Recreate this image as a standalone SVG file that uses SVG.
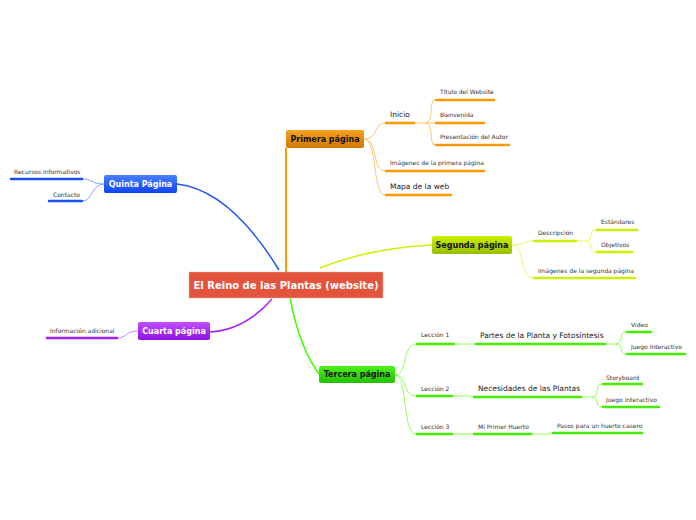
<svg xmlns="http://www.w3.org/2000/svg" width="696" height="520" viewBox="0 0 696 520">
<defs>
<linearGradient id="gO" x1="0" y1="0" x2="0" y2="1"><stop offset="0" stop-color="#f6a21a"/><stop offset="1" stop-color="#d07800"/></linearGradient>
<linearGradient id="gY" x1="0" y1="0" x2="0" y2="1"><stop offset="0" stop-color="#ccf000"/><stop offset="1" stop-color="#94c000"/></linearGradient>
<linearGradient id="gG" x1="0" y1="0" x2="0" y2="1"><stop offset="0" stop-color="#4cf21a"/><stop offset="1" stop-color="#24c000"/></linearGradient>
<linearGradient id="gP" x1="0" y1="0" x2="0" y2="1"><stop offset="0" stop-color="#c050ff"/><stop offset="1" stop-color="#9010e0"/></linearGradient>
<linearGradient id="gB" x1="0" y1="0" x2="0" y2="1"><stop offset="0" stop-color="#4a80ff"/><stop offset="1" stop-color="#1044f0"/></linearGradient>
</defs>
<style>
text{font-family:Verdana,"DejaVu Sans",sans-serif;fill:#333}
.t{font-size:6px}
.m{font-size:7.5px;fill:#222}
.n{font-size:8px;font-weight:bold}
.w{fill:#fff}
.k{fill:#111}
.u{stroke-width:2.5;fill:none;stroke-linecap:round}
.c{fill:none}
</style>
<g id="connectors">
<path class="c" d="M286 272 V148" stroke="#f90" stroke-width="2"/>
<path class="c" d="M320 268 Q370 248 432 245" stroke="#ccf000" stroke-width="1.5"/>
<path class="c" d="M290 298 Q300 350 320 375" stroke="#44ff00" stroke-width="1.5"/>
<path class="c" d="M272 299 Q245 330 210 332" stroke="#aa22ff" stroke-width="1.5"/>
<path class="c" d="M279 270 Q230 190 177 184" stroke="#2255ff" stroke-width="1.5"/>
<g stroke="#ffc870" stroke-width="1" fill="none">
<path d="M364 139 C378 139 374 123 385 123"/>
<path d="M364 139 C378 139 372 171 385 171"/>
<path d="M364 139 C378 139 372 195 385 195"/>
<path d="M415 123 H425 C435 123 428 100 435 100"/>
<path d="M425 123 H435"/>
<path d="M425 123 C435 123 428 145 435 145"/>
</g>
<g stroke="#e4ff60" stroke-width="1" fill="none">
<path d="M512 245 C525 245 522 241 533 241"/>
<path d="M512 245 C525 245 520 278 533 278"/>
<path d="M577 241 H586 C594 241 588 230 596 230"/>
<path d="M586 241 C594 241 588 252 596 252"/>
</g>
<g stroke="#90ff60" stroke-width="1" fill="none">
<path d="M395 375 C408 375 402 344 416 344"/>
<path d="M395 375 C408 375 402 396 416 396"/>
<path d="M395 375 C408 375 402 434 416 434"/>
<path d="M455 344 H475"/>
<path d="M453 396 H473"/>
<path d="M453 434 H473"/>
<path d="M532 434 H552"/>
<path d="M606 344 H616 C624 344 618 332 626 332"/>
<path d="M616 344 C624 344 618 354 626 354"/>
<path d="M582 397 H592 C600 397 594 384 602 384"/>
<path d="M592 397 C600 397 594 407 602 407"/>
</g>
<path d="M138 331 C126 331 126 338 118 338" stroke="#d080ff" stroke-width="1" fill="none"/>
<g stroke="#80a8ff" stroke-width="1" fill="none">
<path d="M104 184 C92 184 92 179 83 179"/>
<path d="M104 184 C92 184 92 201 83 201"/>
</g>
</g>
<g id="central">
<rect x="189" y="272" width="194" height="26" fill="#e4533b" stroke="#f6b0a0" stroke-width="0.5"/>
<text x="286" y="289" text-anchor="middle" class="w" style="font-size:10px;font-weight:bold">El Reino de las Plantas (website)</text>
</g>
<g id="primera">
<rect x="286" y="130" width="78" height="18" rx="2" fill="url(#gO)"/>
<text x="325" y="142" text-anchor="middle" class="n k">Primera página</text>
</g>
<g id="primera-children" stroke="#f90">
<line class="u" x1="386" y1="123" x2="414" y2="123"/><text x="390" y="117" class="m" stroke="none">Inicio</text>
<line class="u" x1="436" y1="100" x2="494" y2="100"/><text x="440" y="94" class="t" stroke="none">Título del Website</text>
<line class="u" x1="436" y1="123" x2="484" y2="123"/><text x="440" y="117" class="t" stroke="none">Bienvenida</text>
<line class="u" x1="436" y1="145" x2="509" y2="145"/><text x="440" y="139" class="t" stroke="none">Presentación del Autor</text>
<line class="u" x1="386" y1="171" x2="484" y2="171"/><text x="390" y="165" class="t" stroke="none">Imágenes de la primera página</text>
<line class="u" x1="386" y1="195" x2="451" y2="195"/><text x="390" y="189" class="m" stroke="none">Mapa de la web</text>
</g>
<g id="segunda">
<rect x="432" y="236" width="80" height="18" rx="2" fill="url(#gY)"/>
<text x="472" y="248" text-anchor="middle" class="n k">Segunda página</text>
</g>
<g id="segunda-children" stroke="#ccf000">
<line class="u" x1="534" y1="241" x2="576" y2="241"/><text x="538" y="235" class="t" stroke="none">Descripción</text>
<line class="u" x1="597" y1="230" x2="637" y2="230"/><text x="601" y="224" class="t" stroke="none">Estándares</text>
<line class="u" x1="597" y1="252" x2="632" y2="252"/><text x="601" y="247" class="t" stroke="none">Objetivos</text>
<line class="u" x1="534" y1="278" x2="635" y2="278"/><text x="538" y="273" class="t" stroke="none">Imágenes de la segunda página</text>
</g>
<g id="tercera">
<rect x="319" y="366" width="76" height="17" rx="2" fill="url(#gG)"/>
<text x="357" y="377" text-anchor="middle" class="n k">Tercera página</text>
</g>
<g id="tercera-children" stroke="#44ee00">
<line class="u" x1="417" y1="344" x2="454" y2="344"/><text x="421" y="337" class="t" stroke="none">Lección 1</text>
<line class="u" x1="417" y1="396" x2="452" y2="396"/><text x="421" y="391" class="t" stroke="none">Lección 2</text>
<line class="u" x1="417" y1="434" x2="452" y2="434"/><text x="421" y="429" class="t" stroke="none">Lección 3</text>
<line class="u" x1="476" y1="344" x2="605" y2="344"/><text x="480" y="338" class="m" stroke="none">Partes de la Planta y Fotosíntesis</text>
<line class="u" x1="627" y1="332" x2="651" y2="332"/><text x="631" y="327" class="t" stroke="none">Video</text>
<line class="u" x1="627" y1="354" x2="685" y2="354"/><text x="631" y="349" class="t" stroke="none">Juego Interactivo</text>
<line class="u" x1="474" y1="397" x2="581" y2="397"/><text x="478" y="391" class="m" stroke="none">Necesidades de las Plantas</text>
<line class="u" x1="603" y1="384" x2="642" y2="384"/><text x="606" y="380" class="t" stroke="none">Storyboard</text>
<line class="u" x1="603" y1="407" x2="659" y2="407"/><text x="606" y="402" class="t" stroke="none">Juego interactivo</text>
<line class="u" x1="474" y1="434" x2="531" y2="434"/><text x="478" y="429" class="t" stroke="none">Mi Primer Huerto</text>
<line class="u" x1="553" y1="433" x2="642" y2="433"/><text x="557" y="428" class="t" stroke="none">Pasos para un huerto casero</text>
</g>
<g id="cuarta">
<rect x="138" y="322" width="72" height="18" rx="2" fill="url(#gP)"/>
<text x="174" y="334" text-anchor="middle" class="n w">Cuarta página</text>
</g>
<g id="cuarta-children" stroke="#a020f0">
<line class="u" x1="47" y1="338" x2="117" y2="338"/><text x="50" y="333" class="t" stroke="none">Información adicional</text>
</g>
<g id="quinta">
<rect x="104" y="175" width="73" height="18" rx="2" fill="url(#gB)"/>
<text x="140.5" y="187" text-anchor="middle" class="n w">Quinta Página</text>
</g>
<g id="quinta-children" stroke="#1a50f0">
<line class="u" x1="11" y1="179" x2="82" y2="179"/><text x="14" y="174" class="t" stroke="none">Recursos informativos</text>
<line class="u" x1="49" y1="201" x2="82" y2="201"/><text x="53" y="197" class="t" stroke="none">Contacto</text>
</g>
</svg>
